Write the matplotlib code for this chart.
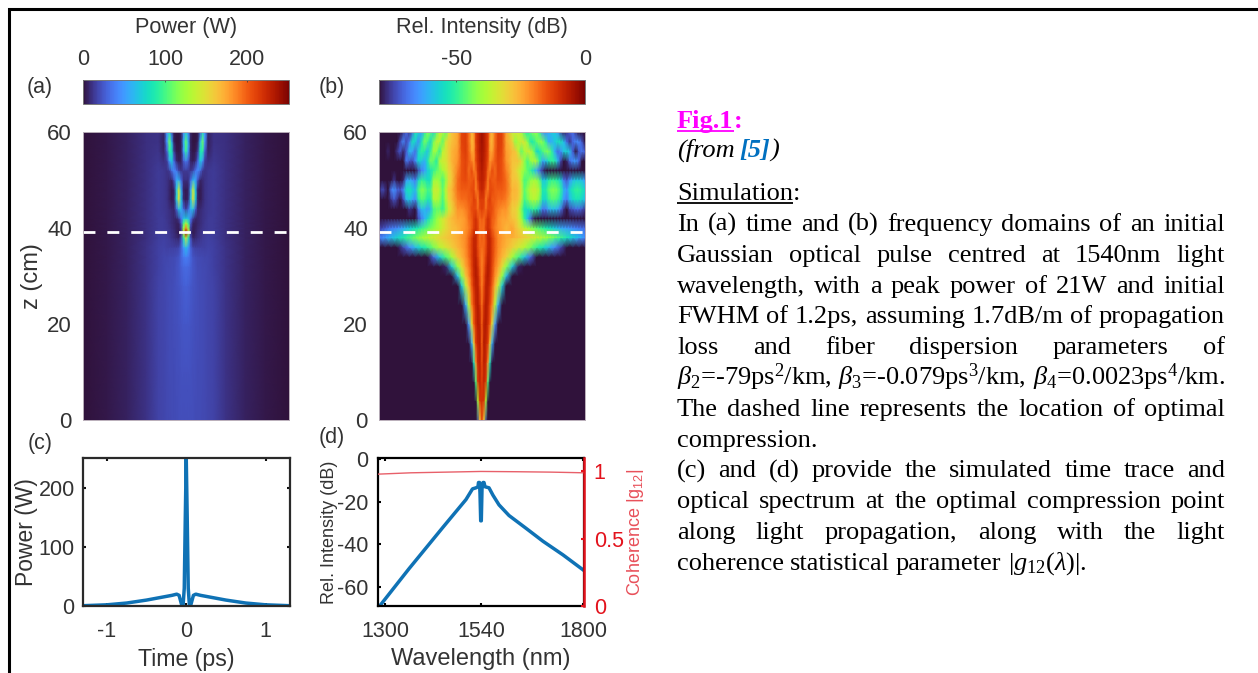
import numpy as np
import matplotlib
matplotlib.use('Agg')
import matplotlib.pyplot as plt
from matplotlib.colors import Normalize
from matplotlib.cm import ScalarMappable

plt.rcParams['font.family'] = ['Liberation Sans', 'DejaVu Sans']
plt.rcParams['mathtext.fontset'] = 'custom'
plt.rcParams['mathtext.rm'] = 'Liberation Serif'
plt.rcParams['mathtext.it'] = 'Liberation Serif:italic'
plt.rcParams['mathtext.bf'] = 'Liberation Serif:bold'
plt.rcParams['mathtext.default'] = 'regular'
plt.rcParams['axes.unicode_minus'] = False

W, H = 1258, 673
GREY = '#333333'
RED = '#e3121c'
BLUE = '#0f72b5'

# ---- panel (a), read by eye: half table, mirrored around t=0
a_t = [0, .03, .06, .09, .12, .15, .18, .21, .24, .28, .35, .5, .75, 1.0, 1.3]
a_z = [0, 10, 20, 28, 32, 34, 36, 38, 39, 40, 41, 42, 44, 46, 48, 50, 52, 54, 56, 58, 60]
a_power = [
    [21, 21, 21, 21, 20, 20, 20, 19, 19, 18, 17, 11, 5, 2, .5],
    [22, 22, 22, 21, 21, 20, 20, 20, 19, 18, 17, 11, 5, 2, .5],
    [24, 24, 23, 22, 21, 21, 20, 20, 19, 18, 17, 11, 5, 2, .5],
    [28, 27, 25, 23, 22, 21, 20, 20, 19, 18, 17, 11, 5, 2, .5],
    [32, 31, 28, 24, 22, 20, 20, 19, 19, 18, 16, 11, 5, 2, .5],
    [40, 37, 30, 23, 21, 20, 19, 19, 18, 18, 16, 11, 5, 2, .5],
    [65, 50, 28, 18, 16, 16, 16, 16, 16, 17, 16, 11, 5, 2, .5],
    [150, 90, 22, 6, 8, 10, 12, 14, 15, 16, 15, 10, 5, 2, .5],
    [250, 150, 12, 3, 6, 9, 11, 13, 14, 15, 15, 10, 5, 2, .5],
    [190, 120, 15, 4, 5, 8, 10, 12, 13, 14, 14, 10, 5, 2, .5],
    [135, 100, 24, 5, 5, 7, 9, 11, 13, 14, 14, 10, 5, 2, .5],
    [70, 65, 35, 14, 6, 7, 9, 11, 12, 14, 14, 10, 5, 2, .5],
    [15, 30, 60, 65, 28, 7, 8, 10, 12, 13, 14, 10, 5, 2, .5],
    [3, 8, 65, 150, 70, 6, 3, 7, 11, 13, 14, 10, 5, 2, .5],
    [3, 6, 55, 140, 65, 6, 3, 7, 11, 13, 14, 10, 5, 2, .5],
    [10, 10, 32, 60, 55, 22, 6, 8, 11, 13, 14, 10, 5, 2, .5],
    [14, 14, 12, 18, 35, 45, 32, 14, 11, 13, 14, 10, 5, 2, .5],
    [38, 26, 6, 4, 8, 30, 70, 50, 14, 10, 13, 10, 5, 2, .5],
    [95, 50, 5, 2, 3, 14, 85, 90, 26, 6, 12, 10, 5, 2, .5],
    [105, 58, 5, 1, 1, 5, 60, 110, 46, 5, 11, 10, 5, 2, .5],
    [65, 42, 6, 1, 1, 3, 26, 72, 48, 6, 11, 10, 5, 2, .5],
]

# ---- panel (b), read by eye. offsets from the 1540 line, in axis units
B = -90
b_center = [0, 2, 4, 6, 8, 10, 13, 16, 20, 24]
b_outer = [30, 36, 42, 48, 54, 60, 66, 72, 78, 84, 90, 96, 102]
b_wing = [30, 33, 36, 39, 42, 45, 48, 51, 54, 57, 60, 63, 66, 69, 72, 75, 78, 81, 84, 87, 90, 93, 96, 99, 102]

# funnel below the dashed line, mirrored
b_low_z = [0, 4, 8, 12, 16, 20, 24, 28, 30, 32, 34, 36, 38]
b_low = [
    [-14, -30, -75, B, B, B, B, B, B, B, B, B, B, B, B, B, B, B, B, B, B, B, B],
    [-10, -11, -40, -80, B, B, B, B, B, B, B, B, B, B, B, B, B, B, B, B, B, B, B],
    [-12, -8, -12, -48, -85, B, B, B, B, B, B, B, B, B, B, B, B, B, B, B, B, B, B],
    [-14, -7, -9, -22, -55, -85, B, B, B, B, B, B, B, B, B, B, B, B, B, B, B, B, B],
    [-16, -6, -8, -12, -30, -62, -88, B, B, B, B, B, B, B, B, B, B, B, B, B, B, B, B],
    [-16, -7, -6, -10, -16, -32, -65, -88, B, B, B, B, B, B, B, B, B, B, B, B, B, B, B],
    [-18, -10, -6, -8, -14, -20, -38, -62, -88, B, B, B, B, B, B, B, B, B, B, B, B, B, B],
    [-20, -14, -7, -7, -10, -16, -26, -36, -58, -80, B, B, B, B, B, B, B, B, B, B, B, B, B],
    [-20, -15, -8, -6, -9, -14, -22, -28, -42, -60, -82, B, B, B, B, B, B, B, B, B, B, B, B],
    [-20, -16, -10, -6, -8, -13, -20, -24, -32, -42, -58, -78, B, B, B, B, B, B, B, B, B, B, B],
    [-20, -17, -12, -7, -8, -12, -18, -22, -26, -30, -40, -48, -58, -70, -82, B, B, B, B, B, B, B, B],
    [-18, -17, -14, -8, -8, -12, -17, -21, -24, -26, -30, -34, -38, -44, -50, -54, -60, -66, -74, -82, -88, B, B],
    [-16, -18, -14, -8, -8, -12, -17, -21, -23, -25, -27, -29, -31, -34, -37, -40, -44, -48, -52, -56, -60, -64, -68],
]

# from the dashed line up: central part shared, the two wings differ
b_up_z = [38, 40, 42, 44, 46, 48, 50, 52, 54, 56, 58, 60]
b_up_center = [
    [-16, -18, -14, -8, -8, -12, -17, -21, -23, -25],
    [-18, -18, -12, -10, -12, -16, -20, -22, -24, -26],
    [-16, -18, -14, -10, -12, -16, -18, -22, -24, -24],
    [-12, -14, -18, -14, -14, -14, -18, -20, -22, -22],
    [-12, -12, -20, -14, -12, -16, -16, -18, -18, -20],
    [-8, -10, -16, -20, -14, -14, -16, -16, -16, -18],
    [-7, -8, -12, -20, -14, -16, -16, -14, -15, -18],
    [-6, -8, -10, -18, -20, -14, -18, -13, -15, -20],
    [-5, -7, -10, -14, -22, -20, -16, -13, -15, -22],
    [-5, -6, -9, -13, -23, -24, -17, -12, -14, -23],
    [-4, -6, -9, -12, -24, -26, -18, -12, -13, -24],
    [-4, -6, -9, -12, -22, -26, -18, -12, -13, -24],
]
b_up_left = [
    [-27, -28, -29, -30, -31, -33, -34, -35, -37, -38, -40, -42, -44, -46, -48, -50, -52, -54, -56, -58, -60, -62, -64, -66, -68],
    [-28, -30, -32, -35, -38, -40, -42, -44, -46, -48, -50, -52, -54, -56, -58, -60, -62, -64, -66, -67, -68, -70, -72, -74, -75],
    [-27, -29, -32, -35, -38, -42, -46, -50, -56, -62, -68, -74, -80, -85, -88, B, B, B, B, B, B, B, B, B, B],
    [-31, -35, -44, -50, -46, -46, -48, -60, -64, -60, -60, -68, -82, -78, -76, -80, B, B, B, B, B, B, B, B, B],
    [-28, -31, -40, -48, -41, -38, -39, -52, -52, -48, -47, -52, -66, -62, -58, -61, -74, -80, -76, -72, -76, B, -84, -82, B],
    [-27, -29, -38, -46, -38, -35, -36, -48, -48, -44, -43, -48, -60, -56, -53, -55, -66, -72, -70, -65, -68, -84, -76, -73, -86],
    [-29, -32, -42, -48, -42, -40, -41, -54, -55, -51, -50, -56, -68, -64, -61, -64, -78, -84, -82, -76, -82, B, -88, -86, B],
    [-28, -31, -36, -40, -44, -46, -50, -54, -58, -64, -68, -74, -80, -84, -88, B, B, B, B, B, B, B, B, B, B],
    [-26, -30, -34, -35, -38, -52, -46, -44, -54, -62, -58, -56, -66, -74, -72, -68, -80, -84, -80, -84, B, B, B, B, B],
    [-26, -30, -34, -37, -50, -42, -40, -50, -60, -52, -50, -56, -70, -63, -60, -72, -78, -72, -76, -88, -84, -78, -80, B, B],
    [-28, -30, -34, -46, -38, -36, -44, -56, -48, -44, -54, -66, -57, -54, -68, -74, -66, -74, -86, -88, -81, -84, B, B, B],
    [-28, -34, -46, -38, -34, -46, -56, -46, -42, -52, -64, -56, -52, -70, -76, -70, -76, B, B, -88, B, B, B, B, B],
]
b_up_right = [
    [-25, -26, -27, -28, -29, -30, -31, -33, -34, -36, -37, -39, -40, -42, -44, -46, -48, -50, -52, -54, -56, -58, -60, -62, -66],
    [-24, -27, -30, -33, -36, -39, -42, -44, -46, -48, -50, -52, -54, -56, -58, -60, -62, -63, -64, -65, -66, -67, -68, -69, -70],
    [-28, -29, -33, -40, -50, -60, -70, -78, -84, -88, B, B, B, B, B, B, B, B, B, B, B, B, B, B, B],
    [-30, -30, -34, -44, -54, -54, -52, -50, -52, -58, -68, -68, -62, -60, -60, -62, -68, -76, -80, -74, -72, -70, -70, -72, -76],
    [-27, -27, -29, -36, -48, -45, -40, -38, -39, -44, -55, -56, -50, -47, -47, -49, -54, -64, -68, -60, -56, -54, -54, -56, -60],
    [-26, -26, -28, -34, -46, -42, -37, -35, -36, -40, -52, -52, -46, -43, -43, -45, -50, -60, -64, -56, -52, -50, -50, -52, -56],
    [-28, -28, -30, -38, -48, -46, -42, -40, -41, -46, -58, -58, -52, -50, -50, -52, -57, -68, -72, -65, -60, -58, -58, -60, -64],
    [-28, -30, -34, -38, -42, -46, -50, -56, -62, -70, -76, -82, -86, B, B, B, B, B, B, B, B, B, B, B, B],
    [-28, -28, -28, -32, -42, -48, -42, -38, -39, -50, -62, -60, -54, -50, -51, -60, -74, -82, -78, -70, -65, -64, -70, -80, -88],
    [-27, -28, -36, -46, -40, -35, -36, -44, -56, -54, -48, -44, -44, -50, -62, -70, -66, -58, -56, -60, -72, -80, -72, -68, -72],
    [-30, -42, -38, -34, -34, -42, -52, -52, -46, -42, -43, -50, -62, -62, -58, -54, -54, -60, -70, -76, -70, -66, -66, -72, -82],
    [-36, -34, -34, -40, -48, -52, -46, -42, -42, -50, -64, -66, -62, -58, -58, -64, -74, -78, -76, -71, -70, -76, -84, B, B],
]

# ---- panel (c)
c_time = [-1.3, -1, -.75, -.5, -.3, -.18, -.12, -.09, -.06, -.04, -.025, -.012, 0,
          .012, .025, .04, .06, .09, .12, .18, .3, .5, .75, 1, 1.3]
c_power = [.5, 2, 5, 10, 15, 18, 20, 18, 3, 1, 30, 150, 250,
           150, 30, 1, 3, 18, 20, 18, 15, 10, 5, 2, .5]

# ---- panel (d), x in the same offsets as panel (b)
d_x = [-103, -72, -38, -15, -8.5, -5, -3, -2.5, -1.5, -1, -.3, .3, 1, 2, 3, 4, 8,
       12, 18, 28, 45, 62, 82, 102]
d_db = [-70, -51.5, -32, -19, -14, -13.5, -13, -11, -11, -16, -29, -29, -14, -11, -11,
        -13, -13.5, -17, -21.5, -26.5, -32.5, -38.6, -45, -52]
coh_x = [-103, -70, -35, 0, 35, 70, 103]
coh_val = [.98, .99, .995, 1, .998, .995, .99]
wl_pos = [-96, 0, 102]
wl_labels = ['1300', '1540', '1800']

z_opt = 39.2

# ---- right hand caption, one entry per justified line
caption = [
    'In (a) time and (b) frequency domains of an initial',
    'Gaussian optical pulse centred at 1540nm light',
    'wavelength, with a peak power of 21W and initial',
    'FWHM of 1.2ps, assuming 1.7dB/m of propagation',
    'loss and fiber dispersion parameters of',
    r'$\mathit{\beta}_{2}$=-79ps$^{2}$/km, $\mathit{\beta}_{3}$=-0.079ps$^{3}$/km, $\mathit{\beta}_{4}$=0.0023ps$^{4}$/km.',
    'The dashed line represents the location of optimal',
    'compression.',
    '(c) and (d) provide the simulated time trace and',
    'optical spectrum at the optimal compression point',
    'along light propagation, along with the light',
    r'coherence statistical parameter $|\mathit{g}_{12}(\mathit{\lambda})|$.',
]
cap_not_justified = ['compression.', caption[-1]]


def px_axes(x0, y0, x1, y1):
    return fig.add_axes([x0 / W, 1 - y1 / H, (x1 - x0) / W, (y1 - y0) / H])


fig = plt.figure(figsize=(W / 100, H / 100), dpi=100)

bg = fig.add_axes([0, 0, 1, 1], zorder=10)
bg.set_xlim(0, W)
bg.set_ylim(H, 0)
bg.axis('off')
bg.patch.set_alpha(0)

# page frame
bg.plot([8.5, 8.5, W], [H, 9, 9], color='black', lw=2.2, solid_joinstyle='miter')

# (a) heatmap
half = np.array(a_power, dtype=float)
a_full = np.hstack([half[:, :0:-1], half])
a_tt = np.r_[-np.array(a_t[:0:-1]), a_t]
norm_a = Normalize(0, 251)
norm_b = Normalize(-80, 0)

ax_a = px_axes(83, 132, 289, 420)
ax_a.pcolormesh(a_tt, a_z, a_full, cmap='turbo', norm=norm_a, shading='gouraud')
ax_a.set_xlim(-1.3, 1.3)

# (b) heatmap, lower funnel and upper part on their own column grids
lo = np.array(b_low, dtype=float)
lo_full = np.hstack([lo[:, :0:-1], lo])
lo_half = np.r_[b_center, b_outer]
lo_xx = np.r_[-lo_half[:0:-1], lo_half]

up_c = np.array(b_up_center, dtype=float)
up_l = np.hstack([up_c, np.array(b_up_left, dtype=float)])
up_r = np.hstack([up_c, np.array(b_up_right, dtype=float)])
up_full = np.hstack([up_l[:, :0:-1], up_r])
up_half = np.r_[b_center, b_wing]
up_xx = np.r_[-up_half[:0:-1], up_half]

ax_b = px_axes(379, 132, 585, 420)
ax_b.pcolormesh(lo_xx, b_low_z, lo_full, cmap='turbo', norm=norm_b, shading='gouraud')
ax_b.pcolormesh(up_xx, b_up_z, up_full, cmap='turbo', norm=norm_b, shading='gouraud')
ax_b.set_xlim(-102, 102)

for ax in (ax_a, ax_b):
    ax.set_ylim(0, 60)
    ax.set_xticks([])
    ax.set_yticks([0, 20, 40, 60])
    ax.tick_params(axis='y', length=0, labelsize=16, labelcolor=GREY, pad=8)
    for s in ax.spines.values():
        s.set_color('#b9aeb9')
        s.set_linewidth(0.7)
    ax.axhline(z_opt, color='white', lw=2, ls=(0, (4.3, 4.3)), dash_capstyle='butt')
ax_a.set_ylabel('z (cm)', fontsize=17, color=GREY, labelpad=3)

# colorbars
cax_a = px_axes(83, 80, 289, 104)
cax_b = px_axes(379, 80, 585, 104)
cb_a = fig.colorbar(ScalarMappable(norm_a, 'turbo'), cax=cax_a, orientation='horizontal', ticks=[0, 100, 200])
cb_b = fig.colorbar(ScalarMappable(norm_b, 'turbo'), cax=cax_b, orientation='horizontal', ticks=[-50, 0])
for cb, title in ((cb_a, 'Power (W)'), (cb_b, 'Rel. Intensity (dB)')):
    cb.ax.xaxis.set_ticks_position('top')
    cb.ax.tick_params(length=1.5, width=0.5, direction='in', labelsize=15.5, labelcolor=GREY, pad=7, color=GREY)
    cb.outline.set_edgecolor('#777777')
    cb.outline.set_linewidth(0.7)
    cb.ax.set_title(title, fontsize=15.6, color=GREY, pad=12)

# (c) time trace
ax_c = px_axes(83, 458, 289.5, 606)
ax_c.plot(c_time, c_power, color=BLUE, lw=2.5)
ax_c.set_xlim(-1.3, 1.3)
ax_c.set_ylim(0, 250)
ax_c.set_xticks([-1, 0, 1])
ax_c.set_yticks([0, 100, 200])
ax_c.tick_params(direction='in', length=2.5, width=1.5, top=True, right=True, labelsize=15.5,
                 labelcolor=GREY, color='#111111', pad=6)
ax_c.tick_params(axis='x', pad=11)
for s in ax_c.spines.values():
    s.set_linewidth(1.6)
    s.set_color('#2a2a2a')
ax_c.set_xlabel('Time (ps)', fontsize=16.7, color=GREY, labelpad=4)
ax_c.set_ylabel('Power (W)', fontsize=16.5, color=GREY, labelpad=0)

# (d) spectrum and coherence
ax_d = px_axes(378, 458, 584, 606)
ax_d.plot(d_x, d_db, color=BLUE, lw=2.5)
ax_d.set_xlim(-103, 103)
ax_d.set_ylim(-69, 0.5)
ax_d.set_xticks(wl_pos)
ax_d.set_xticklabels(wl_labels)
ax_d.set_yticks([-60, -40, -20, 0])
ax_d.tick_params(direction='in', length=2.5, width=1.5, top=True, labelsize=15.5,
                 labelcolor=GREY, color='black', pad=7)
ax_d.tick_params(axis='x', pad=11)
for s in ax_d.spines.values():
    s.set_linewidth(1.6)
    s.set_color('black')
ax_d.set_xlabel('Wavelength (nm)', fontsize=17, color=GREY, labelpad=4)
ax_d.set_ylabel('Rel. Intensity (dB)', fontsize=13, color=GREY, labelpad=-1)

ax_d2 = ax_d.twinx()
ax_d2.plot(coh_x, coh_val, color='#e8606a', lw=1)
ax_d2.set_ylim(0, 1.1)
ax_d2.set_yticks([0, 0.5, 1])
ax_d2.set_yticklabels(['0', '0.5', '1'])
ax_d2.tick_params(axis='y', direction='in', length=2.5, width=1.5, labelsize=15.5, labelcolor=RED, color=RED, pad=7)
for name, s in ax_d2.spines.items():
    s.set_visible(name == 'right')
ax_d2.spines['right'].set_color(RED)
ax_d2.spines['right'].set_linewidth(1.8)
ax_d2.set_ylabel('Coherence |g$_{12}$|', fontsize=13, color='#e8505a', labelpad=1)

# panel letters
for letter, x, y in (('(a)', 40, 87), ('(b)', 332, 87), ('(c)', 40, 443), ('(d)', 332, 438)):
    bg.text(x, y, letter, fontsize=15.5, color=GREY, ha='center', va='center')

# ---- caption text
SERIF = ['Liberation Serif', 'DejaVu Serif']
CAP = 19.0
X0, X1 = 677, 1225
rend = fig.canvas.get_renderer()


def width_of(t):
    return t.get_window_extent(rend).width


def text_line(s, y, justify=True):
    # justified line: measure the words and share out the remaining space
    words = s.split(' ')
    items = [bg.text(X0, y, w, fontsize=CAP, family=SERIF, color='black', va='baseline') for w in words]
    widths = [width_of(t) for t in items]
    gap = (X1 - X0 - sum(widths)) / (len(items) - 1) if justify else 6
    x = X0
    for t, w in zip(items, widths):
        t.set_x(x)
        x += w + gap


def underlined(x, y, s, color, weight='normal', style='normal'):
    t = bg.text(x, y, s, fontsize=CAP, family=SERIF, color=color, weight=weight, style=style, va='baseline')
    w = width_of(t)
    bg.plot([x, x + w], [y + 2.5, y + 2.5], color=color, lw=1.3, solid_capstyle='butt')
    return x + w


x_end = underlined(X0, 128, 'Fig.1', '#ff00ff', weight='bold')
bg.text(x_end, 128, ':', fontsize=CAP, family=SERIF, color='#ff00ff', weight='bold', va='baseline')

t1 = bg.text(X0, 157, '(from', fontsize=CAP, family=SERIF, style='italic', va='baseline')
x1 = X0 + width_of(t1) + 5
t2 = bg.text(x1, 157, '[5]', fontsize=CAP, family=SERIF, style='italic', weight='bold', color='#0070c0', va='baseline')
bg.text(x1 + width_of(t2), 157, ')', fontsize=CAP, family=SERIF, style='italic', va='baseline')

x_end = underlined(X0, 200, 'Simulation', 'black')
bg.text(x_end, 200, ':', fontsize=CAP, family=SERIF, va='baseline')

for i, line in enumerate(caption):
    text_line(line, 231 + i * 30.8, justify=line not in cap_not_justified)

fig.savefig('out.png', dpi=100)
